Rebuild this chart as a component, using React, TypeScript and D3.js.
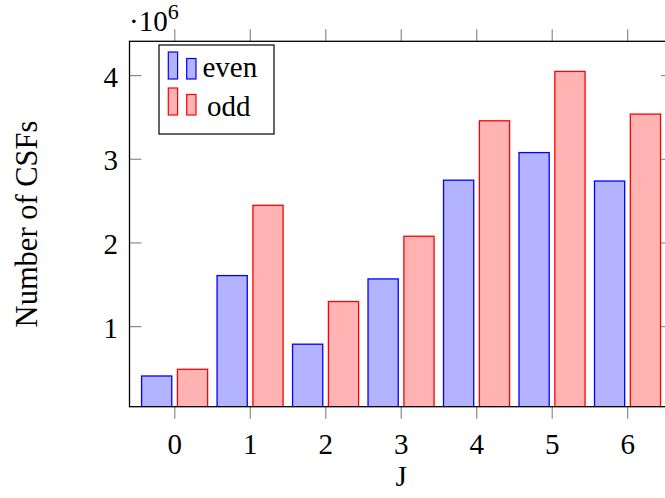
import React from "react";
import * as d3 from "d3";

// J values and number of CSFs for each parity
const jValues = [0, 1, 2, 3, 4, 5, 6];
const evenCounts = [0.41e6, 1.61e6, 0.79e6, 1.57e6, 2.75e6, 3.08e6, 2.74e6];
const oddCounts = [0.49e6, 2.45e6, 1.3e6, 2.08e6, 3.46e6, 4.05e6, 3.54e6];
const yTicks = [1e6, 2e6, 3e6, 4e6];
const seriesNames = ["even", "odd"];

const W = 665;
const H = 498;
const plot = { left: 129.5, right: 673, top: 41.3, bottom: 406.7 };
const FONT = "'Liberation Serif', 'DejaVu Serif', serif";
const TICK_GRAY = "#8c8c8c";

const series = [
  { name: seriesNames[0], values: evenCounts, shift: -0.24, fill: "#b3b3ff", stroke: "#0000ff" },
  { name: seriesNames[1], values: oddCounts, shift: 0.235, fill: "#ffb3b3", stroke: "#ff0000" },
];

export default function App() {
  const x = d3.scaleLinear().domain([-0.6, 6.6]).range([plot.left, plot.right]);
  const y = d3.scaleLinear().domain([0.043e6, 4.41e6]).range([plot.bottom, plot.top]);
  const barW = x(0.4) - x(0);
  const tickLen = 12;

  return (
    <svg
      width={W}
      height={H}
      style={{ position: "absolute", left: 0, top: 0, background: "#fff" }}
      fontFamily={FONT}
    >
      <defs>
        <clipPath id="plot-clip">
          <rect x={plot.left} y={plot.top} width={plot.right - plot.left} height={plot.bottom - plot.top} />
        </clipPath>
      </defs>

      {/* bars */}
      <g clipPath="url(#plot-clip)">
        {series.map((s) =>
          s.values.map((v, i) => {
            const cx = x(jValues[i] + s.shift);
            return (
              <rect
                key={s.name + i}
                x={cx - barW / 2}
                y={y(v)}
                width={barW}
                height={y(0) - y(v)}
                fill={s.fill}
                stroke={s.stroke}
                strokeWidth={1.3}
              />
            );
          })
        )}
      </g>

      {/* ticks */}
      <g stroke={TICK_GRAY} strokeWidth={1.2}>
        {jValues.map((j) => (
          <g key={"xt" + j}>
            <line x1={x(j)} x2={x(j)} y1={plot.bottom} y2={plot.bottom + tickLen} />
            <line x1={x(j)} x2={x(j)} y1={plot.top} y2={plot.top - tickLen} />
          </g>
        ))}
        {yTicks.map((t) => (
          <g key={"yt" + t}>
            <line x1={plot.left} x2={plot.left + tickLen} y1={y(t)} y2={y(t)} />
            <line x1={plot.right} x2={plot.right - tickLen} y1={y(t)} y2={y(t)} />
          </g>
        ))}
      </g>

      {/* axis box */}
      <rect
        x={plot.left}
        y={plot.top}
        width={plot.right - plot.left}
        height={plot.bottom - plot.top}
        fill="none"
        stroke="#000"
        strokeWidth={1.3}
      />

      {/* tick labels */}
      {jValues.map((j) => (
        <text key={"xl" + j} x={x(j)} y={454} textAnchor="middle" fontSize={29}>
          {j}
        </text>
      ))}
      {yTicks.map((t) => (
        <text key={"yl" + t} x={118} y={y(t) + 11} textAnchor="end" fontSize={29}>
          {t / 1e6}
        </text>
      ))}

      {/* scale factor */}
      <text x={129} y={31} fontSize={29}>
        ·10
        <tspan fontSize={22} dy={-12}>6</tspan>
      </text>

      {/* axis labels */}
      <text x={(plot.left + plot.right) / 2} y={486} textAnchor="middle" fontSize={29}>
        J
      </text>
      <text transform={`translate(37,${(plot.top + plot.bottom) / 2}) rotate(-90)`} textAnchor="middle" fontSize={30.5}>
        Number of CSFs
      </text>

      {/* legend */}
      <g transform="translate(159,45)">
        <rect x={0} y={0} width={115} height={89} fill="#fff" stroke="#000" strokeWidth={1.2} />
        {series.map((s, i) => {
          const baseY = 34 + i * 36;
          return (
            <g key={"lg" + s.name}>
              <rect x={9.3} y={baseY - 27} width={9.3} height={27} fill={s.fill} stroke={s.stroke} strokeWidth={1.2} />
              <rect x={27.7} y={baseY - 20.5} width={9.3} height={20.5} fill={s.fill} stroke={s.stroke} strokeWidth={1.2} />
              <text x={i === 0 ? 43.5 : 48} y={i === 0 ? 32 : 71} fontSize={29}>
                {s.name}
              </text>
            </g>
          );
        })}
      </g>
    </svg>
  );
}
